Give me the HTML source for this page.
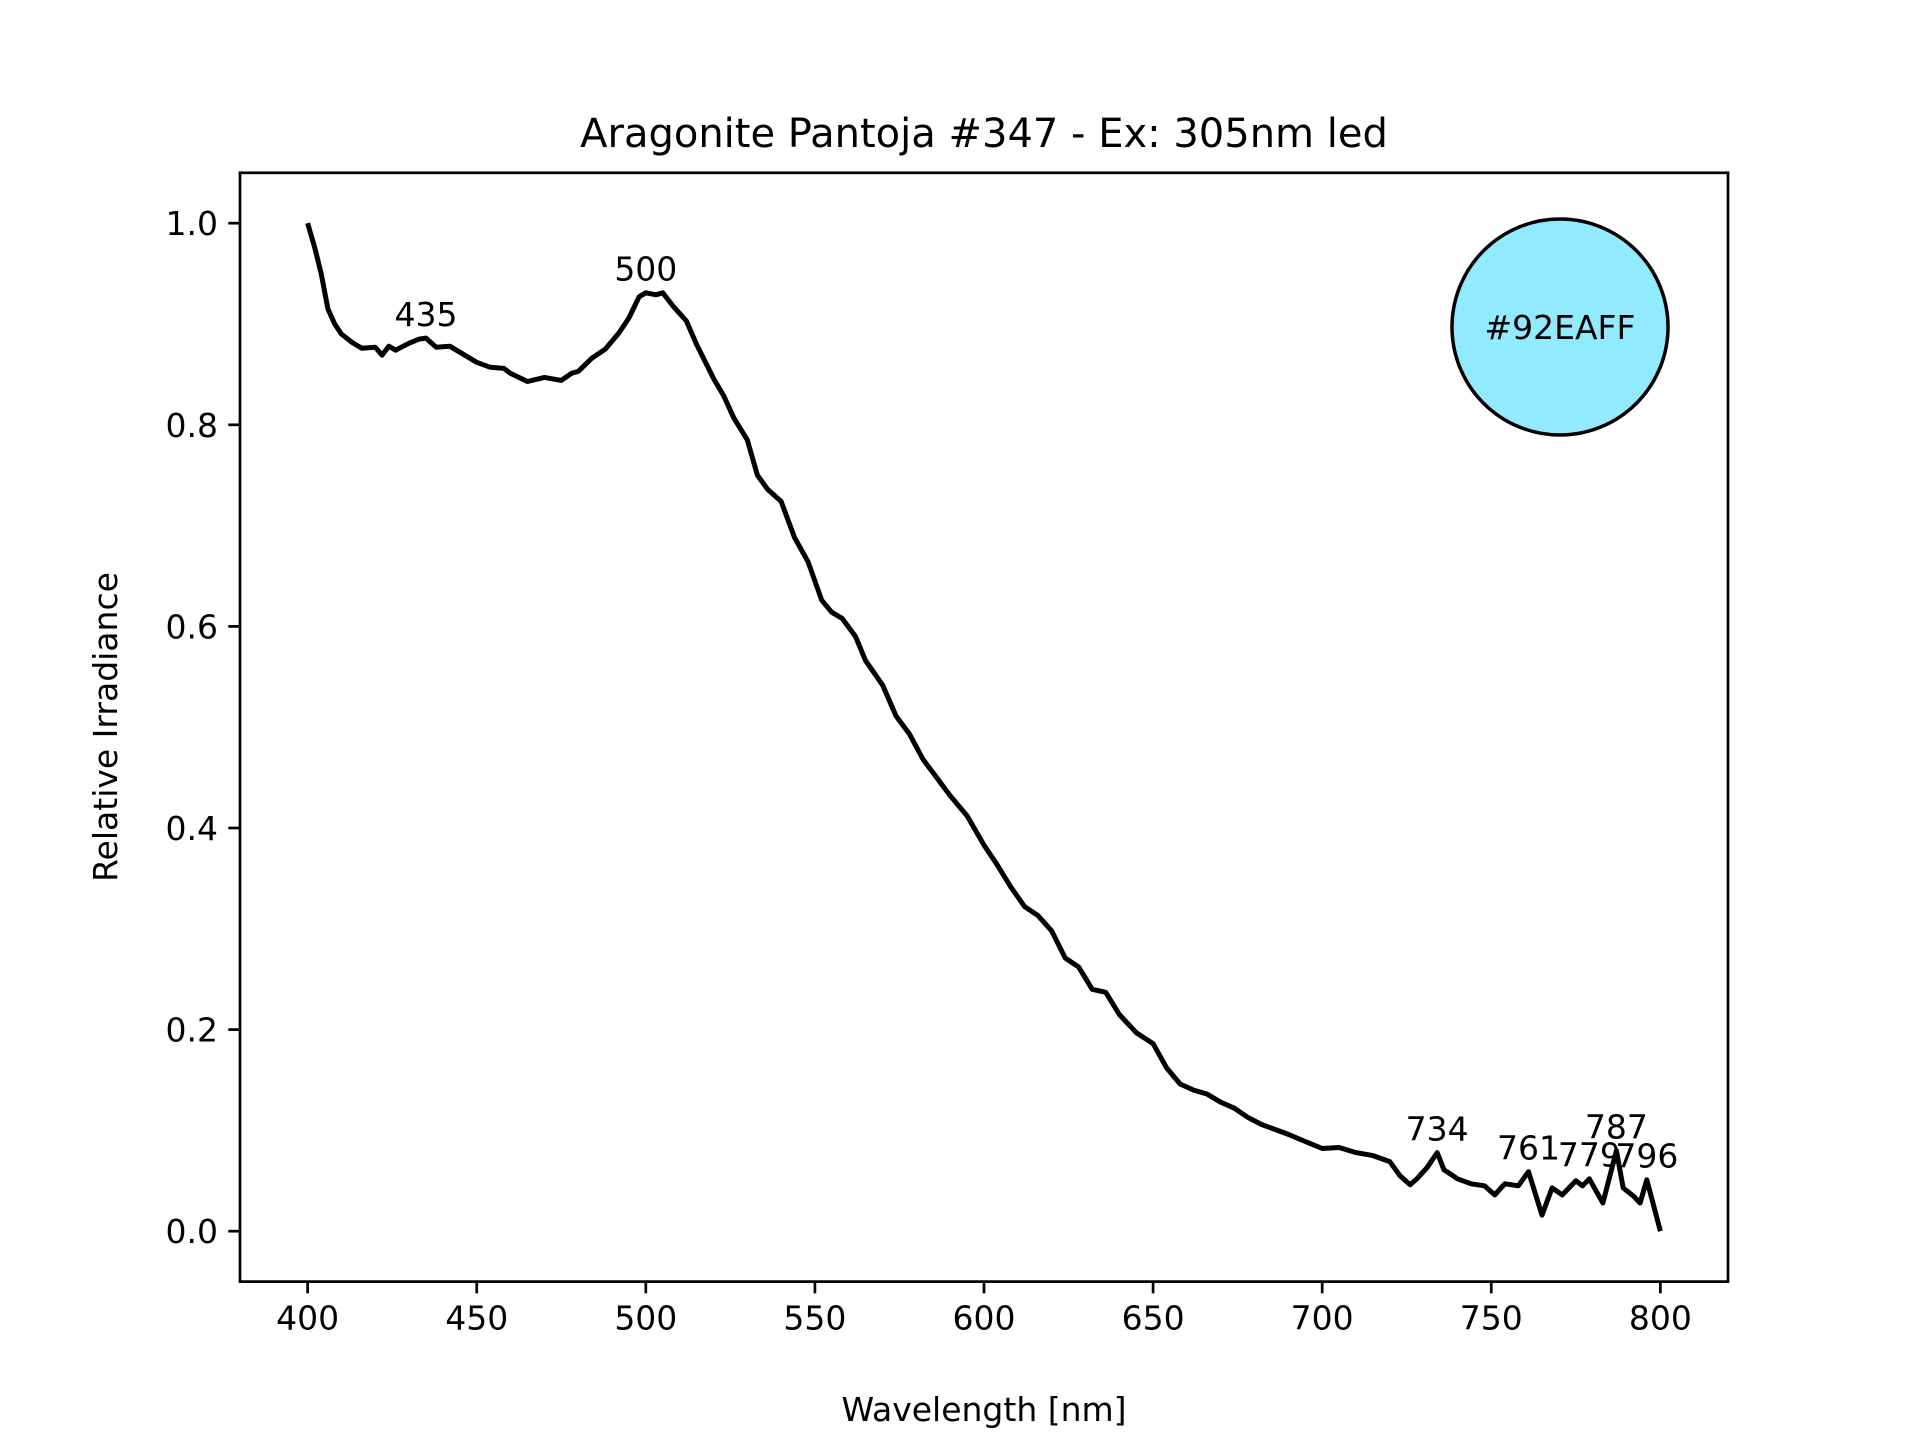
<!DOCTYPE html>
<html><head><meta charset="utf-8"><style>
html,body{margin:0;padding:0;background:#fff;}
svg{display:block;font-family:"DejaVu Sans","Liberation Sans",sans-serif;}
</style></head><body>
<svg id="chart" width="1920" height="1440" viewBox="0 0 1920 1440" xmlns="http://www.w3.org/2000/svg">
<rect width="1920" height="1440" fill="#fff"/>
<text x="984" y="147" font-size="40" text-anchor="middle">Aragonite Pantoja #347 - Ex: 305nm led</text>
<g id="plot"></g>
<text x="984" y="1421" font-size="33" text-anchor="middle">Wavelength [nm]</text>
<text x="0" y="0" font-size="33" text-anchor="middle" transform="translate(117,727) rotate(-90)">Relative Irradiance</text>
</svg>
<script>
const wavelengths = [400,402,404,406,408,410,413,416,420,422,424,426,430,433,435,438,442,446,450,454,458,460,465,470,475,478,480,484,488,492,495,498,500,503,505,508,512,515,520,523,526,530,533,536,540,544,548,552,555,558,562,565,570,574,578,582,586,590,595,600,604,608,612,616,620,624,628,632,636,640,645,650,654,658,662,666,670,674,678,682,686,690,695,700,705,710,715,720,723,726,728,731,734,736,740,744,748,751,754,758,761,765,768,771,775,777,779,783,787,789,792,794,796,800];
const irradiance = [1.0,0.977,0.95,0.915,0.90,0.89,0.882,0.876,0.877,0.869,0.878,0.874,0.881,0.885,0.886,0.877,0.878,0.870,0.862,0.857,0.856,0.851,0.843,0.847,0.844,0.851,0.853,0.866,0.875,0.891,0.906,0.927,0.931,0.929,0.931,0.918,0.903,0.880,0.846,0.829,0.807,0.785,0.75,0.736,0.724,0.688,0.664,0.626,0.614,0.608,0.590,0.566,0.542,0.511,0.493,0.468,0.450,0.432,0.412,0.383,0.363,0.341,0.322,0.313,0.298,0.271,0.262,0.240,0.237,0.215,0.197,0.186,0.162,0.146,0.140,0.136,0.128,0.122,0.113,0.106,0.101,0.096,0.089,0.082,0.083,0.078,0.075,0.069,0.055,0.046,0.052,0.063,0.078,0.061,0.052,0.047,0.045,0.036,0.047,0.045,0.059,0.016,0.043,0.036,0.05,0.045,0.052,0.028,0.080,0.043,0.035,0.028,0.051,0.0];
const peakLabels = ["435","500","734","761","779","787","796"];
const peakX = [435,500,734,761,779,787,796];
const peakY = [0.886,0.931,0.078,0.059,0.052,0.080,0.051];
const xTicks = [400,450,500,550,600,650,700,750,800];
const yTicks = [0.0,0.2,0.4,0.6,0.8,1.0];
const colorLabel = "#92EAFF";

const L=240,R=1728,T=172.8,B=1281.6, X0=380,X1=820,Y0=-0.05,Y1=1.05;
const sx = v => L + (v-X0)/(X1-X0)*(R-L);
const sy = v => B - (v-Y0)/(Y1-Y0)*(B-T);
const NS="http://www.w3.org/2000/svg";
const g=document.getElementById('plot');
function mk(tag, attrs){const e=document.createElementNS(NS,tag);for(const k in attrs)e.setAttribute(k,attrs[k]);return e;}

let d="";
wavelengths.forEach((w,i)=>{d+=(i?"L":"M")+sx(w).toFixed(1)+","+sy(irradiance[i]).toFixed(1);});
const line=mk('path',{d:d,fill:'none',stroke:'#000','stroke-width':5,'stroke-linejoin':'round'});


g.appendChild(line);

peakLabels.forEach((t,i)=>{
  const tx=mk('text',{x:sx(peakX[i]),y:sy(peakY[i]+0.012),'font-size':33,'text-anchor':'middle'});
  tx.textContent=t;
  
  
  g.appendChild(tx);
});

const circ=mk('circle',{cx:1560,cy:327,r:108,fill:'#92EAFF',stroke:'#000','stroke-width':3.5});


g.appendChild(circ);
const ct=mk('text',{x:1560,y:339,'font-size':33,'text-anchor':'middle'});
ct.textContent=colorLabel;


g.appendChild(ct);

xTicks.forEach(v=>{
  const x=sx(v);
  const tk=mk('line',{x1:x,x2:x,y1:B,y2:B+11.7,stroke:'#000','stroke-width':2.7});
  
  
  g.appendChild(tk);
  const tl=mk('text',{x:x,y:B+48,'font-size':33,'text-anchor':'middle'});
  tl.textContent=v;
  
  
  g.appendChild(tl);
});
yTicks.forEach(v=>{
  const y=sy(v);
  const tk=mk('line',{x1:L-11.7,x2:L,y1:y,y2:y,stroke:'#000','stroke-width':2.7});
  
  
  g.appendChild(tk);
  const tl=mk('text',{x:L-22,y:y+12,'font-size':33,'text-anchor':'end'});
  tl.textContent=v.toFixed(1);
  
  
  g.appendChild(tl);
});
const frame=mk('rect',{x:L,y:T,width:R-L,height:B-T,fill:'none',stroke:'#000','stroke-width':2.7});


g.appendChild(frame);
</script>
</body></html>
